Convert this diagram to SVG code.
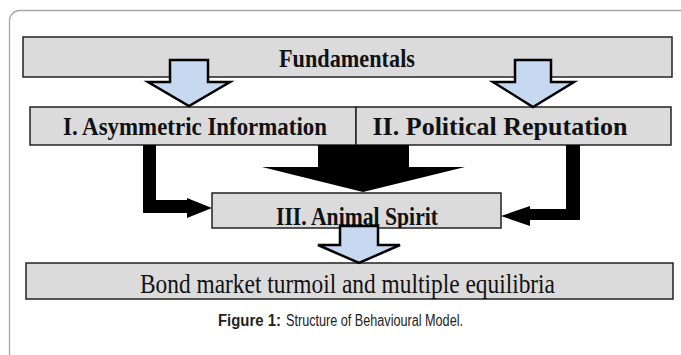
<svg xmlns="http://www.w3.org/2000/svg" width="681" height="355" viewBox="0 0 681 355">
<style>
.box{fill:#dbdbdc;stroke:#222;stroke-width:1.5}
.hollow{fill:#c6d9f1;stroke:#000;stroke-width:2.5;stroke-linejoin:miter}
.solid{fill:#000;stroke:none}
.t{font-family:"Liberation Sans Narrow","Liberation Serif","Times New Roman",serif;fill:#111;text-anchor:middle}
.t{font-family:"Liberation Serif","Times New Roman",serif}
.b{font-weight:bold}
.cap{font-family:"Liberation Sans",Arial,sans-serif;font-size:16px;fill:#222}
</style>
<defs>
<clipPath id="clipAnimal"><rect x="212" y="193" width="289" height="35"/></clipPath>
<clipPath id="clipBond"><rect x="26" y="263" width="647" height="36"/></clipPath>
</defs>
<rect x="9.5" y="10.5" width="690" height="360" rx="10" ry="10" fill="#fff" stroke="#a8a8a8" stroke-width="1.3"/>
<g id="fundamentals">
<rect class="box" x="23" y="37" width="649" height="40"/>
<text class="t b" x="347" y="67" font-size="25" textLength="136" lengthAdjust="spacingAndGlyphs">Fundamentals</text>
</g>
<g id="asymmetric">
<rect class="box" x="30" y="107" width="326" height="38"/>
<text class="t b" x="195" y="135" font-size="24.5" textLength="264" lengthAdjust="spacingAndGlyphs">I. Asymmetric Information</text>
</g>
<g id="political">
<rect class="box" x="356" y="107" width="315" height="38"/>
<text class="t b" x="500" y="135" font-size="24.5" textLength="255" lengthAdjust="spacingAndGlyphs">II. Political Reputation</text>
</g>
<g id="animal">
<rect class="box" x="212" y="193" width="289" height="35"/>
<text class="t b" x="357" y="225" font-size="25" textLength="162" lengthAdjust="spacingAndGlyphs" clip-path="url(#clipAnimal)">III. Animal Spirit</text>
</g>
<g id="bond">
<rect class="box" x="26" y="263" width="647" height="36"/>
<text class="t" x="347.5" y="293" font-size="27" textLength="415" lengthAdjust="spacingAndGlyphs" clip-path="url(#clipBond)">Bond market turmoil and multiple equilibria</text>
</g>
<g id="connectors">
<path class="hollow" d="M170,60 H208 V82 H230 L189,106 L148,82 H170 Z"/>
<path class="hollow" d="M515,60 H551 V82 H574 L533,107 L493,82 H515 Z"/>
<path class="hollow" d="M340,226 H378 V245 H400 L359,263 L318,245 H340 Z"/>
<path class="solid" d="M318,145 H409 V167 H465 L363,192 L262,167 H318 Z"/>
<path class="solid" d="M143,145 H156 V200 H187 V198 L212,208 L187,218 V213 H143 Z"/>
<path class="solid" d="M566,145 H580 V220 H530 V226 L501,216 L530,206 V209 H566 Z"/>
</g>
<g id="caption">
<text class="cap" x="218" y="326" font-weight="bold" textLength="63" lengthAdjust="spacingAndGlyphs">Figure 1:</text>
<text class="cap" x="286" y="326" textLength="177" lengthAdjust="spacingAndGlyphs">Structure of Behavioural Model.</text>
</g>
</svg>
